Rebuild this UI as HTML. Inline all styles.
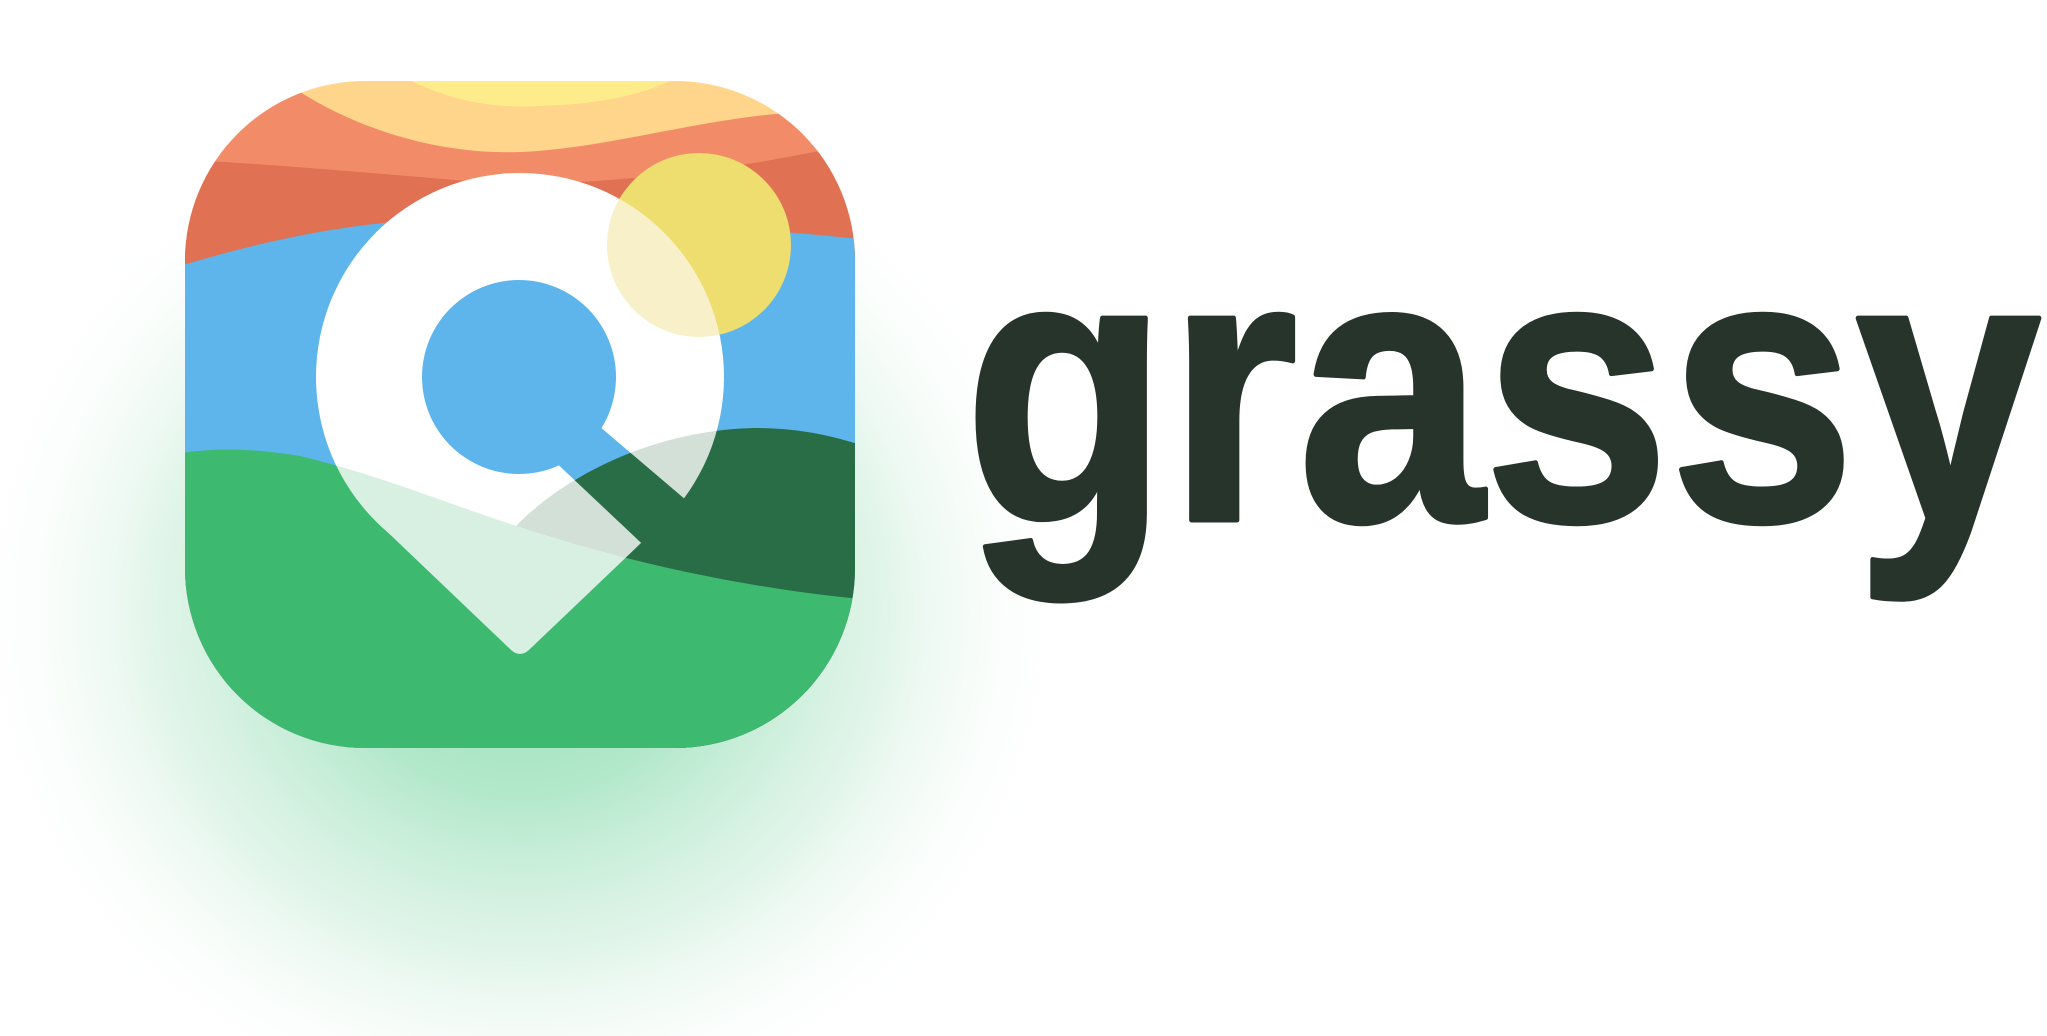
<!DOCTYPE html>
<html><head><meta charset="utf-8">
<style>
html,body{margin:0;padding:0;background:#fff;}
svg{display:block;}
</style></head>
<body>
<svg width="2047" height="1036" viewBox="0 0 2047 1036" xmlns="http://www.w3.org/2000/svg">
  <defs>
    <radialGradient id="glow" cx="520" cy="610" r="560" gradientUnits="userSpaceOnUse" gradientTransform="translate(520 610) scale(1 0.95) translate(-520 -610)">
      <stop offset="0" stop-color="#8fdcb1" stop-opacity="1"/>
      <stop offset="0.35" stop-color="#a6e4c2" stop-opacity="0.85"/>
      <stop offset="0.65" stop-color="#cdeedb" stop-opacity="0.6"/>
      <stop offset="1" stop-color="#ffffff" stop-opacity="0"/>
    </radialGradient>
    <clipPath id="iconClip">
      <rect x="185" y="81" width="670" height="667" rx="180" ry="180"/>
    </clipPath>
    <mask id="pinMask" maskUnits="userSpaceOnUse" x="0" y="0" width="2047" height="1036">
      <circle cx="520" cy="377" r="204" fill="#fff"/>
      <path d="M379,524 L520,390 L661,524 L531,648 Q520,660 509,648 Z" fill="#fff"/>
      <circle cx="519" cy="377" r="97" fill="#000"/>
      <polygon points="579,409 780,580 741,637 532,440" fill="#000"/>
    </mask>
  </defs>

  <rect x="0" y="0" width="2047" height="1036" fill="url(#glow)"/>

  <g clip-path="url(#iconClip)">
    <rect x="150" y="60" width="720" height="700" fill="#FED58B"/>
    <path d="M400,60 L411,81 C460,104 500,108 540,106 C600,104 640,95 670,81 L680,60 Z" fill="#FEEC8A"/>
    <path d="M150,60 L280,60 L300,92 C360,130 440,155 522,152 C610,148 700,118 800,112 L870,108 L870,760 L150,760 Z" fill="#F28B67"/>
    <path d="M150,158 C300,165 420,178 520,185 C640,180 740,170 870,140 L870,760 L150,760 Z" fill="#E07153"/>
    <path d="M150,275 C230,250 320,226 420,220 C560,214 720,225 870,240 L870,760 L150,760 Z" fill="#5DB5EC"/>
    <circle cx="699" cy="245" r="92" fill="#EEDD6F"/>
    <path d="M500,545 C540,490 640,430 755,428 C800,428 835,436 870,448 L870,760 L500,760 Z" fill="#286D45"/>
    <path d="M150,460 C190,448 240,446 300,456 C380,475 450,505 520,527 C620,560 740,588 870,600 L870,760 L150,760 Z" fill="#3DBA70"/>

    <g mask="url(#pinMask)">
      <rect x="150" y="60" width="720" height="700" fill="#FFFFFF"/>
      <circle cx="699" cy="245" r="92" fill="#F8F0C8"/>
      <path d="M500,545 C540,490 640,430 755,428 C800,428 835,436 870,448 L870,760 L500,760 Z" fill="#D3E0D8"/>
      <path d="M150,460 C190,448 240,446 300,456 C380,475 450,505 520,527 C620,560 740,588 870,600 L870,760 L150,760 Z" fill="#D8F0E2"/>
    </g>
  </g>

  <text x="964" y="520" textLength="1077" lengthAdjust="spacingAndGlyphs" font-family="'Liberation Sans', Arial, sans-serif" font-weight="bold" font-size="382" fill="#26342B" stroke="#26342B" stroke-width="5" stroke-linejoin="round">grassy</text>
</svg>
</body></html>
